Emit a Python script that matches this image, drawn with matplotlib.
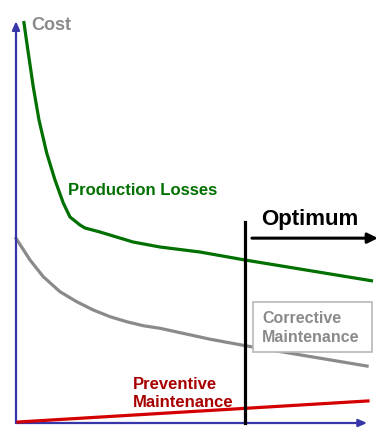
import matplotlib
matplotlib.use("Agg")
import matplotlib.pyplot as plt
from matplotlib.patches import Rectangle

plt.rcParams['font.family'] = ['Liberation Sans', 'DejaVu Sans']

# Maintenance level (0..100) vs cost (0..100)
prod_x = [2.2, 3.51, 4.94, 6.57, 8.77, 11.14, 13.51, 15.43, 18.29, 19.71, 24.0, 33.43, 41.14, 52.57, 65.43, 81.14, 102.0]
prod_y = [100.25, 92.27, 83.79, 75.56, 67.33, 60.6, 54.86, 51.37, 49.38, 48.63, 47.63, 45.14, 43.89, 42.64, 40.65, 38.4, 35.41]

corr_x = [0.0, 4.0, 7.8, 12.57, 17.34, 22.09, 26.86, 31.63, 36.37, 41.14, 55.43, 66.0, 81.1, 100.3]
corr_y = [46.06, 40.65, 36.48, 32.74, 30.25, 28.18, 26.51, 25.26, 24.26, 23.62, 20.9, 19.2, 17.0, 14.2]

prev_x = [0.57, 100.57]
prev_y = [0.25, 5.5]

optimum_x = 65.43
optimum_top = 50.1

fig = plt.figure(figsize=(3.87, 4.33), dpi=100)
ax = fig.add_axes([0, 0, 1, 1])
ax.set_xlim(-4.571, 106.0)
ax.set_ylim(-2.494, 105.49)
ax.axis('off')

blue = '#3636a8'
ax.annotate('', xy=(0, 100.2), xytext=(0, 0),
            arrowprops=dict(arrowstyle='-|>,head_length=0.5,head_width=0.22', color=blue, lw=1.6, shrinkA=0, shrinkB=0))
ax.annotate('', xy=(100.3, 0), xytext=(0, 0),
            arrowprops=dict(arrowstyle='-|>,head_length=0.5,head_width=0.22', color=blue, lw=1.6, shrinkA=0, shrinkB=0))

ax.plot(prod_x, prod_y, color='#007000', lw=2.3, solid_joinstyle='round', solid_capstyle='butt', zorder=3)
ax.plot(corr_x, corr_y, color='#8a8a8a', lw=2.3, solid_joinstyle='round', zorder=2)
ax.plot(prev_x, prev_y, color='#d40000', lw=2.3, zorder=3)

ax.plot([optimum_x, optimum_x], [0, optimum_top], color='black', lw=2.3, zorder=4)
ax.annotate('', xy=(103.4, 46.1), xytext=(67.4, 46.1),
            arrowprops=dict(arrowstyle='-|>,head_length=0.6,head_width=0.3', color='black', lw=2.2, shrinkA=0, shrinkB=0))
ax.text(83.9, 49.4, 'Optimum', fontsize=16, fontweight='bold', color='black', ha='center', va='baseline')

ax.text(4.3, 98.0, 'Cost', fontsize=13, fontweight='bold', color='#8a8a8a', ha='left', va='baseline')
ax.text(14.86, 56.9, 'Production Losses', fontsize=12, fontweight='bold', color='#007000', ha='left', va='baseline')

ax.add_patch(Rectangle((67.71, 17.7), 34.0, 12.47, facecolor='white', edgecolor='#b8b8b8', lw=1.2, zorder=5))
ax.text(70.3, 24.94, 'Corrective', fontsize=11.5, fontweight='bold', color='#8a8a8a', ha='left', va='baseline', zorder=6)
ax.text(70.3, 20.2, 'Maintenance', fontsize=11.5, fontweight='bold', color='#8a8a8a', ha='left', va='baseline', zorder=6)

ax.text(33.43, 8.48, 'Preventive', fontsize=12, fontweight='bold', color='#a80000', ha='left', va='baseline')
ax.text(33.43, 4.0, 'Maintenance', fontsize=12, fontweight='bold', color='#a80000', ha='left', va='baseline')

fig.savefig('out.png', dpi=100)
